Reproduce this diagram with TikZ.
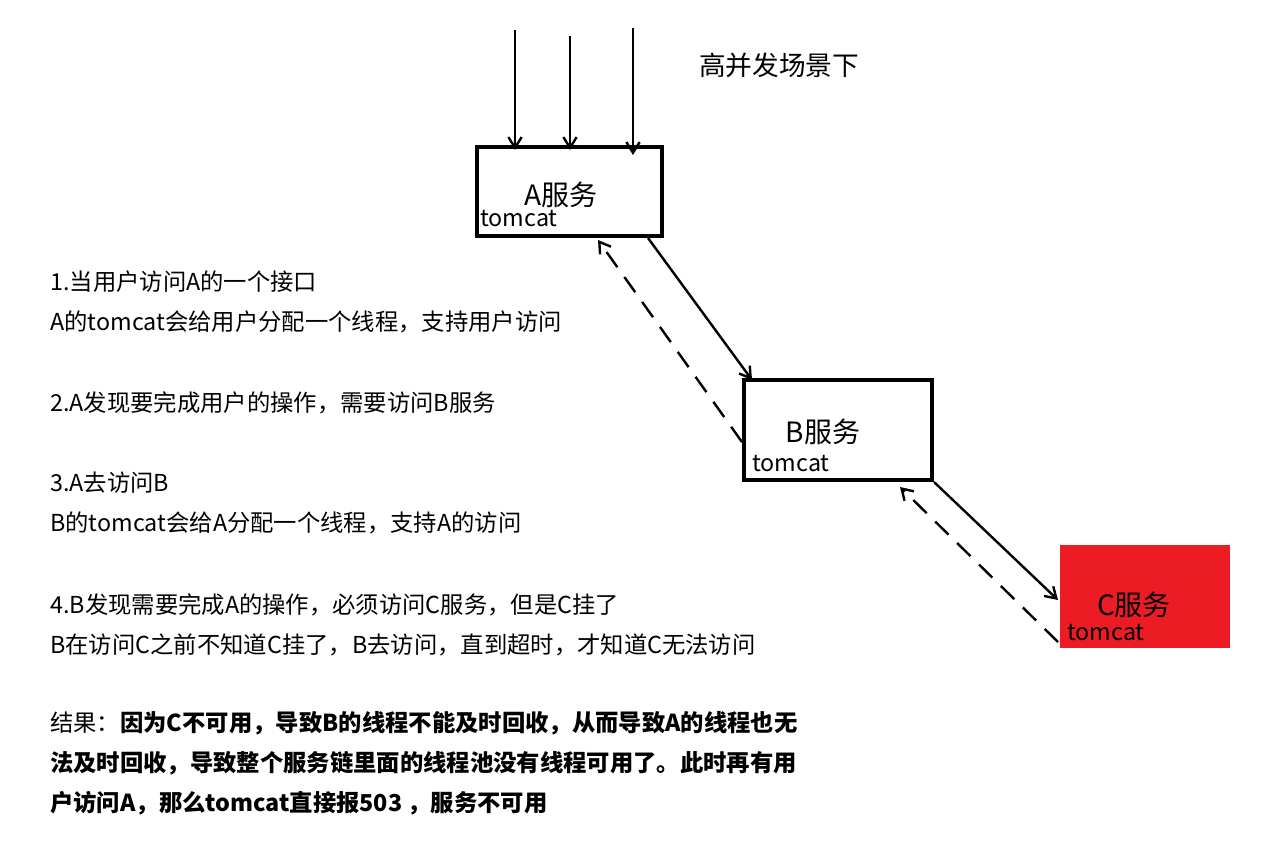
\documentclass[tikz,border=0pt]{standalone}
\usepackage{fontspec}
\setmainfont{Noto Sans CJK SC}
\usetikzlibrary{arrows.meta}
\definecolor{cred}{HTML}{ED1C24}
\tikzset{
  box/.style={draw,line width=3pt,inner sep=0pt},
  arr/.style={line width=1.8pt,-{Straight Barb[length=8pt,width=10pt]}},
  darr/.style={arr,dash pattern=on 14pt off 9pt},
  txt/.style={anchor=west,inner sep=0pt,font=\fontsize{17.5}{19}\selectfont},
  lbl/.style={inner sep=0pt,font=\fontsize{21}{23}\selectfont},
  tc/.style={inner sep=0pt,font=\fontsize{17.5}{19}\selectfont}
}
\begin{document}
\begin{tikzpicture}[x=0.75pt,y=-0.75pt]
\useasboundingbox (0,0) rectangle (1288,847);
% boxes
\draw[box] (477,147) rectangle (662,236);
\draw[box] (744,380) rectangle (932,480);
\fill[cred] (1060,545) rectangle (1230,648);
\node[lbl] (la) at (561,195) {A服务};
\node[tc] (ta) at (519,219) {tomcat};
\node[lbl] (lb) at (823,432) {B服务};
\node[tc] (tb) at (791,464) {tomcat};
\node[lbl] (lc) at (1134,605) {C服务};
\node[tc] (tc) at (1106,633) {tomcat};
\node[lbl,font=\fontsize{20}{22}\selectfont] (title) at (779,65) {高并发场景下};
% incoming arrows
\coordinate (s1) at (515,30); \coordinate (e1) at (515,150);
\coordinate (s2) at (570,36); \coordinate (e2) at (570,150);
\coordinate (s3) at (633,28); \coordinate (e3) at (633,155);
\draw[arr] (s1) -- (e1);
\draw[arr] (s2) -- (e2);
\draw[arr] (s3) -- (e3);
% A-B
\coordinate (ab1) at (648,238); \coordinate (ab2) at (752,380);
\draw[arr] (ab1) -- (ab2);
\coordinate (ba1) at (742,442); \coordinate (ba2) at (598,240);
\draw[darr] (ba1) -- (ba2);
% B-C
\coordinate (bc1) at (934,482); \coordinate (bc2) at (1058,600);
\draw[arr] (bc1) -- (bc2);
\coordinate (cb1) at (1058,642); \coordinate (cb2) at (900,487);
\draw[darr] (cb1) -- (cb2);
% text
\node[txt] (t1) at (50,282) {1.当用户访问A的一个接口};
\node[txt] (t2) at (50,322) {A的tomcat会给用户分配一个线程，支持用户访问};
\node[txt] (t3) at (50,403) {2.A发现要完成用户的操作，需要访问B服务};
\node[txt] (t4) at (50,483) {3.A去访问B};
\node[txt] (t5) at (50,523) {B的tomcat会给A分配一个线程，支持A的访问};
\node[txt] (t6) at (50,605) {4.B发现需要完成A的操作，必须访问C服务，但是C挂了};
\node[txt] (t7) at (50,645) {B在访问C之前不知道C挂了，B去访问，直到超时，才知道C无法访问};
\node[txt] (t8) at (50,723) {结果：\textbf{因为C不可用，导致B的线程不能及时回收，从而导致A的线程也无}};
\node[txt] (t9) at (50,763) {\textbf{法及时回收，导致整个服务链里面的线程池没有线程可用了。此时再有用}};
\node[txt] (t10) at (50,803) {\textbf{户访问A，那么tomcat直接报503 ，服务不可用}};
\end{tikzpicture}
\end{document}
